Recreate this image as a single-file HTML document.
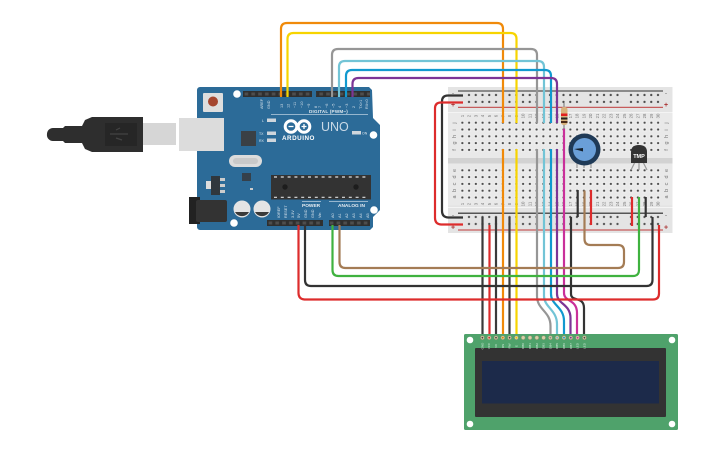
<!DOCTYPE html>
<html><head><meta charset="utf-8"><style>
html,body{margin:0;padding:0;background:#fff}
svg{display:block;font-family:"Liberation Sans",sans-serif}
</style></head><body>
<svg width="725" height="453" viewBox="0 0 725 453" xmlns="http://www.w3.org/2000/svg">
<defs>
<pattern id="mh" x="459" y="119.3" width="6.75" height="6.8" patternUnits="userSpaceOnUse"><rect x="1.4" y="1.5" width="4" height="4" fill="#efefef"/><circle cx="3.35" cy="3.4" r="1.15" fill="#4a4a4a"/></pattern>
<pattern id="rh" x="465.6" y="91.6" width="40.5" height="6.9" patternUnits="userSpaceOnUse">
<g fill="#4a4a4a"><circle cx="3.4" cy="3.4" r="1.15"/><circle cx="10.15" cy="3.4" r="1.15"/><circle cx="16.9" cy="3.4" r="1.15"/><circle cx="23.65" cy="3.4" r="1.15"/><circle cx="30.4" cy="3.4" r="1.15"/></g></pattern>
<pattern id="rh2" x="465.6" y="213.6" width="40.5" height="7" patternUnits="userSpaceOnUse">
<g fill="#4a4a4a"><circle cx="3.4" cy="3.4" r="1.15"/><circle cx="10.15" cy="3.4" r="1.15"/><circle cx="16.9" cy="3.4" r="1.15"/><circle cx="23.65" cy="3.4" r="1.15"/><circle cx="30.4" cy="3.4" r="1.15"/></g></pattern>
<pattern id="hd" x="243" y="91" width="6.8" height="6" patternUnits="userSpaceOnUse"><rect width="6.8" height="6" fill="#2f2f2f"/><rect x="1.6" y="1.5" width="3.6" height="3" fill="#4e4e4e"/></pattern>
<pattern id="hd2" x="267" y="220" width="6.8" height="6" patternUnits="userSpaceOnUse"><rect width="6.8" height="6" fill="#2f2f2f"/><rect x="1.6" y="1.5" width="3.6" height="3" fill="#4e4e4e"/></pattern>
</defs>

<!-- USB -->
<rect x="143" y="123" width="33" height="22" fill="#d6d6d6"/>
<path d="M47 134a6 6 0 0 1 6-6h10l2-2h17l3-6 7-3h51v35H92l-7-3-3-6H65l-2-2H53a6 6 0 0 1-6-7z" fill="#2e2e2e"/>
<rect x="105" y="123" width="32" height="23" fill="#262626"/>
<path d="M110 134h18M116 130l4-2M116 138l6 2" stroke="#444" stroke-width="1.2" fill="none"/>

<!-- Arduino -->
<path d="M200 87H369l3 3 1 28 7 7v85l-7 7v10l-3 3H200a3 3 0 0 1-3-3V90a3 3 0 0 1 3-3z" fill="#2c6b98"/>
<rect x="179" y="118" width="45" height="33" fill="#dcdcdc"/>
<rect x="189" y="197" width="11" height="27" fill="#222"/>
<rect x="196" y="200" width="31" height="22" rx="2" fill="#333"/>
<rect x="203" y="93" width="20" height="19" rx="1" fill="#dedede"/><circle cx="213" cy="101.5" r="5" fill="#a5462f"/>
<g fill="#fff"><circle cx="237" cy="94" r="3.8"/><circle cx="373.5" cy="135" r="3.8"/><circle cx="234" cy="223" r="3.8"/><circle cx="374" cy="210" r="3.8"/></g>
<rect x="243" y="91" width="69" height="6" fill="url(#hd)"/>
<rect x="316" y="91" width="54" height="6" fill="url(#hd)"/>
<rect x="267" y="220" width="56" height="6" fill="url(#hd2)"/>
<rect x="329" y="220" width="41" height="6" fill="url(#hd2)"/>
<rect x="241" y="131" width="15" height="15" fill="#3a4045"/>
<rect x="242" y="173" width="9" height="8" fill="#35404a"/>
<rect x="229" y="155" width="33" height="12" rx="6" fill="#dcdcdc"/><rect x="233" y="158" width="25" height="6" rx="3" fill="#c9c9c9"/>
<rect x="206" y="181" width="5" height="8" fill="#ddd"/><rect x="211" y="176" width="9" height="19" fill="#30373d"/>
<g fill="#ccc"><rect x="220" y="178" width="5" height="3"/><rect x="220" y="184" width="5" height="3"/><rect x="220" y="190" width="5" height="3"/></g>
<rect x="250" y="188" width="3" height="2" fill="#ccc"/>
<circle cx="242" cy="209" r="8.5" fill="#e4e4e4"/><path d="M235 212a8 8 0 0 0 14 0z" fill="#3a3a3a"/>
<circle cx="262" cy="209" r="8.5" fill="#e4e4e4"/><path d="M255 212a8 8 0 0 0 14 0z" fill="#3a3a3a"/>
<rect x="271" y="175" width="100" height="24.5" fill="#333"/>
<path d="M274 177H368M274 197.3H368" stroke="#ddd" stroke-width="1.2" stroke-dasharray="3 3.8"/>
<circle cx="285" cy="187" r="2.7" fill="#1d1d1d"/><circle cx="356" cy="187" r="2.7" fill="#1d1d1d"/>
<g fill="#cfd6dc"><rect x="267" y="118.5" width="9" height="3.5"/><rect x="267" y="131.5" width="9" height="3.5"/><rect x="267" y="138.5" width="9" height="3.5"/><rect x="352" y="131" width="9" height="3.5"/></g>
<g fill="#dfe8ef" font-size="3.5"><text x="262" y="122">L</text><text x="259" y="135">TX</text><text x="259" y="142">RX</text><text x="362" y="134.5">ON</text></g>
<circle cx="291" cy="126.5" r="5.8" fill="none" stroke="#fff" stroke-width="3"/><circle cx="304" cy="126.5" r="5.8" fill="none" stroke="#fff" stroke-width="3"/>
<path d="M288.5 126.5h5M301.5 126.5h5M304 124v5" stroke="#fff" stroke-width="1.3"/>
<text x="282" y="140" font-size="6.3" font-weight="bold" fill="#fff" letter-spacing=".5">ARDUINO</text>
<text x="321" y="131" font-size="12.5" fill="#c9d9e6">UNO</text>
<text x="309" y="113" font-size="4.6" font-weight="bold" fill="#dfe8ef" letter-spacing=".2">DIGITAL (PWM~)</text>
<path d="M271 114.5H368M302 201.5H321M329 201.5H368" stroke="#b9cfdf" stroke-width=".8"/>
<text x="302" y="207" font-size="4.8" font-weight="bold" fill="#e8eef3">POWER</text>
<text x="338" y="207" font-size="4.8" font-weight="bold" fill="#e8eef3">ANALOG IN</text>
<g font-size="3.8" fill="#d5e1ea">
<text transform="translate(263,109) rotate(-90)">AREF</text><text transform="translate(270,109) rotate(-90)">GND</text>
<text transform="translate(283,108) rotate(-90)">13</text><text transform="translate(289.5,108) rotate(-90)">12</text><text transform="translate(296,108) rotate(-90)">~11</text><text transform="translate(303,108) rotate(-90)">~10</text><text transform="translate(310,108) rotate(-90)">~9</text><text transform="translate(317,108) rotate(-90)">8</text>
<text transform="translate(321,108) rotate(-90)">7</text><text transform="translate(328,108) rotate(-90)">~6</text><text transform="translate(334.5,108) rotate(-90)">~5</text><text transform="translate(341,108) rotate(-90)">4</text><text transform="translate(348,108) rotate(-90)">~3</text><text transform="translate(355,108) rotate(-90)">2</text><text transform="translate(362,109) rotate(-90)">TX&gt;1</text><text transform="translate(368,109) rotate(-90)">RX&lt;0</text>
<text transform="translate(280,218) rotate(-90)">IOREF</text><text transform="translate(287,218) rotate(-90)">RESET</text><text transform="translate(294,218) rotate(-90)">3.3V</text><text transform="translate(300,218) rotate(-90)">5V</text><text transform="translate(307,218) rotate(-90)">GND</text><text transform="translate(314,218) rotate(-90)">GND</text><text transform="translate(321,218) rotate(-90)">Vin</text>
<text transform="translate(334,218) rotate(-90)">A0</text><text transform="translate(341,218) rotate(-90)">A1</text><text transform="translate(348,218) rotate(-90)">A2</text><text transform="translate(355,218) rotate(-90)">A3</text><text transform="translate(362,218) rotate(-90)">A4</text><text transform="translate(369,218) rotate(-90)">A5</text>
</g>

<!-- Breadboard -->
<rect x="448" y="87" width="224.5" height="146" fill="#e4e4e4"/>
<rect x="448" y="112" width="224.5" height="93.5" fill="#e9e9e9"/>
<rect x="448" y="158" width="224.5" height="5.5" fill="#d2d2d2"/>
<rect x="448" y="112" width="224.5" height="1" fill="#f4f4f4"/><rect x="448" y="207" width="224.5" height="1" fill="#f4f4f4"/>
<rect x="458" y="90" width="205" height="2" fill="#8a8a8a"/>
<rect x="458" y="106.8" width="205" height="1" fill="#bf3a3a"/>
<rect x="458" y="212.5" width="205" height="1.5" fill="#555"/>
<rect x="458" y="229.5" width="205" height="1" fill="#bf3a3a"/>
<rect x="465.6" y="91.6" width="196" height="13.8" fill="url(#rh)"/>
<rect x="465.6" y="213.6" width="196" height="14" fill="url(#rh2)"/>
<rect x="459" y="119.3" width="202.5" height="34" fill="url(#mh)"/>
<rect x="459" y="166.5" width="202.5" height="34" fill="url(#mh)"/>
<g fill="#a33" font-size="7" font-weight="bold"><text x="451" y="107">+</text><text x="664" y="107">+</text><text x="451" y="229.5">+</text><text x="664" y="229.5">+</text></g>
<g fill="#555" font-size="6"><text x="452" y="95">-</text><text x="665" y="95">-</text><text x="452" y="217">-</text><text x="665" y="217">-</text></g>
<g fill="#777" font-size="4.3" text-anchor="middle">
<text transform="translate(463.8,116) rotate(-90)">1</text><text transform="translate(470.5,116) rotate(-90)">2</text><text transform="translate(477.3,116) rotate(-90)">3</text><text transform="translate(484,116) rotate(-90)">4</text><text transform="translate(490.8,116) rotate(-90)">5</text><text transform="translate(497.5,116) rotate(-90)">6</text><text transform="translate(504.3,116) rotate(-90)">7</text><text transform="translate(511,116) rotate(-90)">8</text><text transform="translate(517.8,116) rotate(-90)">9</text><text transform="translate(524.5,116) rotate(-90)">10</text><text transform="translate(531.3,116) rotate(-90)">11</text><text transform="translate(538,116) rotate(-90)">12</text><text transform="translate(544.8,116) rotate(-90)">13</text><text transform="translate(551.5,116) rotate(-90)">14</text><text transform="translate(558.3,116) rotate(-90)">15</text><text transform="translate(565,116) rotate(-90)">16</text><text transform="translate(571.8,116) rotate(-90)">17</text><text transform="translate(578.5,116) rotate(-90)">18</text><text transform="translate(585.3,116) rotate(-90)">19</text><text transform="translate(592,116) rotate(-90)">20</text><text transform="translate(598.8,116) rotate(-90)">21</text><text transform="translate(605.5,116) rotate(-90)">22</text><text transform="translate(612.3,116) rotate(-90)">23</text><text transform="translate(619,116) rotate(-90)">24</text><text transform="translate(625.8,116) rotate(-90)">25</text><text transform="translate(632.5,116) rotate(-90)">26</text><text transform="translate(639.3,116) rotate(-90)">27</text><text transform="translate(646,116) rotate(-90)">28</text><text transform="translate(652.8,116) rotate(-90)">29</text><text transform="translate(659.5,116) rotate(-90)">30</text>
<text transform="translate(463.8,204) rotate(-90)">1</text><text transform="translate(470.5,204) rotate(-90)">2</text><text transform="translate(477.3,204) rotate(-90)">3</text><text transform="translate(484,204) rotate(-90)">4</text><text transform="translate(490.8,204) rotate(-90)">5</text><text transform="translate(497.5,204) rotate(-90)">6</text><text transform="translate(504.3,204) rotate(-90)">7</text><text transform="translate(511,204) rotate(-90)">8</text><text transform="translate(517.8,204) rotate(-90)">9</text><text transform="translate(524.5,204) rotate(-90)">10</text><text transform="translate(531.3,204) rotate(-90)">11</text><text transform="translate(538,204) rotate(-90)">12</text><text transform="translate(544.8,204) rotate(-90)">13</text><text transform="translate(551.5,204) rotate(-90)">14</text><text transform="translate(558.3,204) rotate(-90)">15</text><text transform="translate(565,204) rotate(-90)">16</text><text transform="translate(571.8,204) rotate(-90)">17</text><text transform="translate(578.5,204) rotate(-90)">18</text><text transform="translate(585.3,204) rotate(-90)">19</text><text transform="translate(592,204) rotate(-90)">20</text><text transform="translate(598.8,204) rotate(-90)">21</text><text transform="translate(605.5,204) rotate(-90)">22</text><text transform="translate(612.3,204) rotate(-90)">23</text><text transform="translate(619,204) rotate(-90)">24</text><text transform="translate(625.8,204) rotate(-90)">25</text><text transform="translate(632.5,204) rotate(-90)">26</text><text transform="translate(639.3,204) rotate(-90)">27</text><text transform="translate(646,204) rotate(-90)">28</text><text transform="translate(652.8,204) rotate(-90)">29</text><text transform="translate(659.5,204) rotate(-90)">30</text>
</g>
<g fill="#777" font-size="5.5" text-anchor="middle">
<text transform="translate(456,123) rotate(-90)">j</text><text transform="translate(456,130) rotate(-90)">i</text><text transform="translate(456,136.5) rotate(-90)">h</text><text transform="translate(456,143) rotate(-90)">g</text><text transform="translate(456,150) rotate(-90)">f</text>
<text transform="translate(456,170.5) rotate(-90)">e</text><text transform="translate(456,177) rotate(-90)">d</text><text transform="translate(456,184) rotate(-90)">c</text><text transform="translate(456,190.5) rotate(-90)">b</text><text transform="translate(456,197) rotate(-90)">a</text>
<text transform="translate(668,123) rotate(-90)">j</text><text transform="translate(668,130) rotate(-90)">i</text><text transform="translate(668,136.5) rotate(-90)">h</text><text transform="translate(668,143) rotate(-90)">g</text><text transform="translate(668,150) rotate(-90)">f</text>
<text transform="translate(668,170.5) rotate(-90)">e</text><text transform="translate(668,177) rotate(-90)">d</text><text transform="translate(668,184) rotate(-90)">c</text><text transform="translate(668,190.5) rotate(-90)">b</text><text transform="translate(668,197) rotate(-90)">a</text>
</g>

<!-- Wires -->
<g fill="none" stroke-width="2.2" stroke-linecap="butt">
<path d="M281 97V29q0-6 6-6H497q6 0 6 6V123M503 149V338" stroke="#f08a0a"/>
<path d="M287.5 97V39q0-6 6-6H510.5q6 0 6 6V123M516.5 149V338" stroke="#f7d400"/>
<path d="M332 97V55q0-6 6-6H531q6 0 6 6V123M537 149V296c0 14 13.5 15 13.5 30V338" stroke="#969696"/>
<path d="M339 97V67q0-6 6-6H538q6 0 6 6V123M544 149V296c0 11 13 14 13 28V338" stroke="#72c4d6"/>
<path d="M346 97V76q0-6 6-6H545q6 0 6 6V123M551 149V294c0 11 13 13 13 27V338" stroke="#1199cf"/>
<path d="M352.5 97V84q0-6 6-6H551q6 0 6 6V123M557 149V294c0 10 13.5 10 13.5 24V338" stroke="#7c3596"/>
<path d="M564 128V293c0 9 13 6 13 20V338" stroke="#c9309a"/>
<path d="M571 217V294c0 8 13 2 13 14V338" stroke="#333"/>
<path d="M482.5 217V338M496 217V338M509.5 217V338" stroke="#3a3a3a"/>
<path d="M489.5 225V338" stroke="#dd2c2c"/>
<path d="M463 95.5H448q-6 0-6 6V211q0 6 6 6.5H463" stroke="#333"/>
<path d="M463 102.5H441q-6 0-6 6V218q0 6 6 6.5H463" stroke="#dd2c2c"/>
<path d="M339.5 225V262q0 6 6 6H618q6 0 6-6V251q0-6-6-6H590.5q-6 0-6-6V190.5" stroke="#a47c55"/>
<path d="M332.5 225V270q0 6 6 6H633q6 0 6-6V197" stroke="#3fb23f"/>
<path d="M305 225V280q0 6 6 6H646.5q6 0 6-6V217" stroke="#333"/>
<path d="M298.5 225V293q0 6 6 6.5H653q6 0 6-6V225" stroke="#dd2c2c"/>
<path d="M577.7 190V217" stroke="#333"/>
<path d="M591 190V225" stroke="#dd2c2c"/>
<path d="M632 197V226" stroke="#dd2c2c"/>
<path d="M645.7 197V217" stroke="#333"/>
</g>

<!-- Resistor -->
<path d="M564 103V129" stroke="#999" stroke-width="1.5"/>
<rect x="561" y="107" width="6.5" height="18" rx="2.5" fill="#d8b27c"/>
<rect x="561" y="113.5" width="6.5" height="2.5" fill="#e01f1f"/><rect x="561" y="117.5" width="6.5" height="2" fill="#222"/><rect x="561" y="121" width="6.5" height="2" fill="#4a2a18"/>

<!-- Potentiometer -->
<path d="M577 160v8M584 160v8M591 160v8" stroke="#999" stroke-width="1.2"/>
<circle cx="584.5" cy="149.5" r="16" fill="#1f3a57"/>
<circle cx="584.5" cy="149.5" r="11.5" fill="#6a9fd8"/>
<path d="M574 149l9-1v3.5z" fill="#15202c"/>

<!-- TMP -->
<path d="M635 162l-4 8M639 163v7M643 162l4 8" stroke="#999" stroke-width="1.2" fill="none"/>
<path d="M631 152q0-7 8-7t8 7v11h-16z" fill="#333"/>
<text x="639" y="158" font-size="5.5" font-weight="bold" fill="#fff" text-anchor="middle">TMP</text>

<!-- LCD -->
<rect x="464" y="334" width="214" height="96" rx="1.5" fill="#4fa26b"/>
<g fill="#fff"><circle cx="470" cy="340" r="3.3"/><circle cx="672" cy="340" r="3.3"/><circle cx="470" cy="424" r="3.3"/><circle cx="672" cy="424" r="3.3"/></g>
<rect x="475" y="348" width="191" height="69" rx="1" fill="#333"/>
<rect x="482" y="361" width="177" height="42.5" fill="#1c2a4a"/>
<g fill="#d8cfa8" stroke="#8a8a6a" stroke-width=".5">
<circle cx="482.4" cy="337.7" r="2"/><circle cx="489.2" cy="337.7" r="2"/><circle cx="496" cy="337.7" r="2"/><circle cx="502.8" cy="337.7" r="2"/><circle cx="509.6" cy="337.7" r="2"/><circle cx="516.4" cy="337.7" r="2"/><circle cx="523.2" cy="337.7" r="2"/><circle cx="530" cy="337.7" r="2"/><circle cx="536.8" cy="337.7" r="2"/><circle cx="543.6" cy="337.7" r="2"/><circle cx="550.4" cy="337.7" r="2"/><circle cx="557.2" cy="337.7" r="2"/><circle cx="564" cy="337.7" r="2"/><circle cx="570.8" cy="337.7" r="2"/><circle cx="577.6" cy="337.7" r="2"/><circle cx="584.4" cy="337.7" r="2"/>
</g>
<g fill="#444"><circle cx="482.4" cy="337.7" r=".9"/><circle cx="489.2" cy="337.7" r=".9" fill="#c33"/><circle cx="496" cy="337.7" r=".9"/><circle cx="502.8" cy="337.7" r=".9" fill="#d80"/><circle cx="509.6" cy="337.7" r=".9"/><circle cx="516.4" cy="337.7" r=".9" fill="#ec0"/><circle cx="550.4" cy="337.7" r=".9" fill="#888"/><circle cx="557.2" cy="337.7" r=".9" fill="#7bc"/><circle cx="564" cy="337.7" r=".9" fill="#19c"/><circle cx="570.8" cy="337.7" r=".9" fill="#739"/><circle cx="577.6" cy="337.7" r=".9" fill="#c39"/><circle cx="584.4" cy="337.7" r=".9"/></g>
<g fill="#d8efe0" font-size="3" text-anchor="middle">
<text transform="translate(483.4,346) rotate(-90)">GND</text><text transform="translate(490.2,346) rotate(-90)">VCC</text><text transform="translate(497,346) rotate(-90)">V0</text><text transform="translate(503.8,346) rotate(-90)">RS</text><text transform="translate(510.6,346) rotate(-90)">RW</text><text transform="translate(517.4,346) rotate(-90)">E</text><text transform="translate(524.2,346) rotate(-90)">DB0</text><text transform="translate(531,346) rotate(-90)">DB1</text><text transform="translate(537.8,346) rotate(-90)">DB2</text><text transform="translate(544.6,346) rotate(-90)">DB3</text><text transform="translate(551.4,346) rotate(-90)">DB4</text><text transform="translate(558.2,346) rotate(-90)">DB5</text><text transform="translate(565,346) rotate(-90)">DB6</text><text transform="translate(571.8,346) rotate(-90)">DB7</text><text transform="translate(578.6,346) rotate(-90)">LED</text><text transform="translate(585.4,346) rotate(-90)">LED</text>
</g>
</svg>
</body></html>
